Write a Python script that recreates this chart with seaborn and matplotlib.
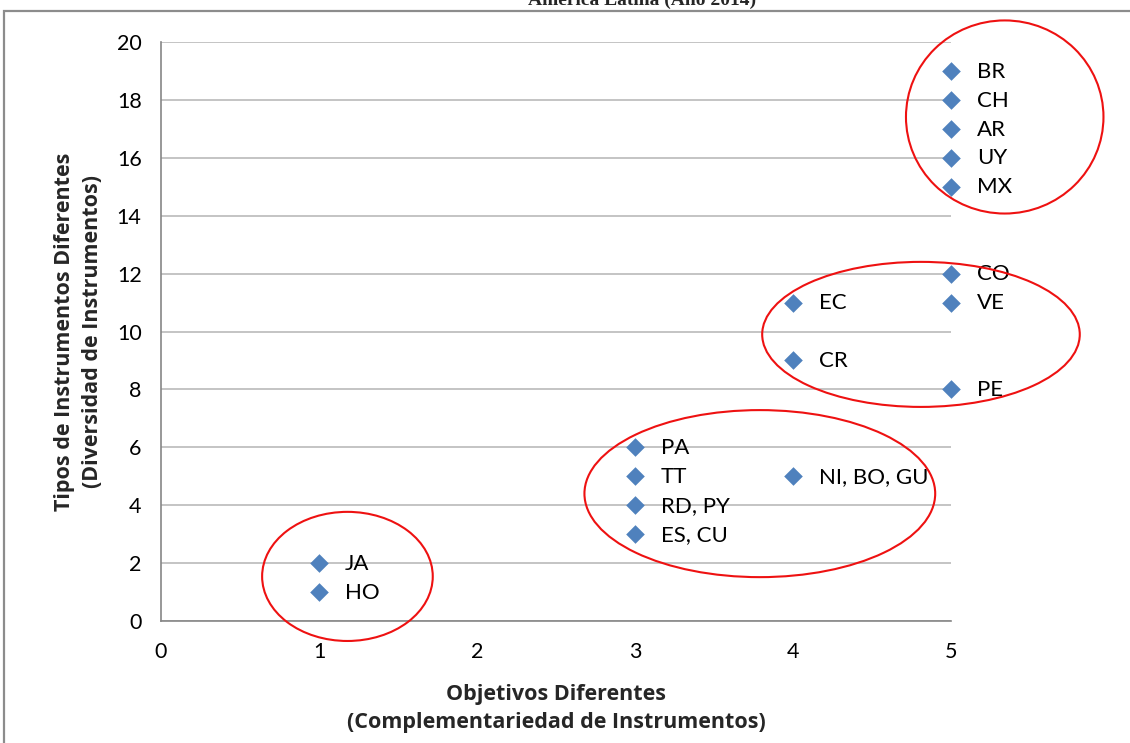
import matplotlib
matplotlib.use("Agg")
import matplotlib.pyplot as plt
from matplotlib.patches import Ellipse, Rectangle
import seaborn as sns
import pandas as pd

# Country groups: number of distinct objectives vs. number of instrument types
labels = ["BR", "CH", "AR", "UY", "MX", "CO", "VE", "EC", "CR", "PE",
          "PA", "TT", "NI, BO, GU", "RD, PY", "ES, CU", "JA", "HO"]
objetivos = [5, 5, 5, 5, 5, 5, 5, 4, 4, 5, 3, 3, 4, 3, 3, 1, 1]
tipos = [19, 18, 17, 16, 15, 12, 11, 11, 9, 8, 6, 5, 5, 4, 3, 2, 1]

x_ticks = [0, 1, 2, 3, 4, 5]
y_ticks = [0, 2, 4, 6, 8, 10, 12, 14, 16, 18, 20]

title = "América Latina (Año 2014)"
x_title = "Objetivos Diferentes\n(Complementariedad de Instrumentos)"
y_title = "Tipos de Instrumentos Diferentes\n(Diversidad de Instrumentos)"

# Cluster outlines: (center x, center y, width, height) in data units
clusters = [
    (5.34, 17.41, 1.25, 6.67),
    (4.81, 9.90, 2.01, 5.01),
    (3.79, 4.40, 2.22, 5.77),
    (1.18, 1.54, 1.08, 4.46),
]

df = pd.DataFrame({"pais": labels, "objetivos": objetivos, "tipos": tipos})

sns.set_theme(style="white")
plt.rcParams["font.family"] = ["Lato", "DejaVu Sans"]

fig = plt.figure(figsize=(11.3, 7.43), dpi=100)
ax = fig.add_axes([161 / 1130, 1 - 621 / 743, (951 - 161) / 1130, (621 - 42) / 743])

# outer chart frame
fig.patches.append(Rectangle((4 / 1130, -0.05), 1.2, (743 - 11) / 743 + 0.05,
                             transform=fig.transFigure, fill=False,
                             edgecolor="#8c8c8c", linewidth=1.6))

fig.text(642 / 1130, 1 - 5 / 743, title, ha="center", va="baseline",
         family="Liberation Serif", fontweight="bold", fontsize=14)

blue = "#4F81BD"
sns.scatterplot(data=df, x="objetivos", y="tipos", marker="D", s=90,
                color=blue, edgecolor=blue, linewidth=0, ax=ax, zorder=3,
                clip_on=False)

for lab, xv, yv in zip(labels, objetivos, tipos):
    ax.annotate(lab, (xv, yv), xytext=(18.5, -0.5), textcoords="offset points",
                ha="left", va="center", fontsize=16, color="black",
                zorder=4, annotation_clip=False)

for cx, cy, w, h in clusters:
    ax.add_patch(Ellipse((cx, cy), w, h, fill=False, edgecolor="#EE1111",
                         linewidth=1.5, clip_on=False, zorder=5))

ax.set_xlim(0, 5)
ax.set_ylim(0, 20)
ax.set_xticks(x_ticks)
ax.set_yticks(y_ticks)
ax.set_xticklabels([str(v) for v in x_ticks])
ax.set_yticklabels([str(v) for v in y_ticks])

ax.grid(axis="y", color="#BFBFBF", linewidth=1.3)
ax.grid(axis="x", visible=False)
ax.set_axisbelow(True)

for side in ["top", "right"]:
    ax.spines[side].set_visible(False)
for side in ["left", "bottom"]:
    ax.spines[side].set_color("#868686")
    ax.spines[side].set_linewidth(1.2)

ax.tick_params(axis="both", which="major", direction="out", length=5,
               width=1.2, color="#868686", labelsize=15.5, labelcolor="black")
ax.tick_params(axis="y", pad=9)
ax.tick_params(axis="x", pad=10)

ax.set_xlabel(x_title, fontsize=15.5, fontweight="bold", labelpad=16,
              linespacing=1.45, family=["Open Sans", "DejaVu Sans"])
ax.set_ylabel(y_title, fontsize=15.5, fontweight="bold", labelpad=10,
              linespacing=1.4, family=["Open Sans", "DejaVu Sans"])

fig.savefig("out.png", dpi=100)
